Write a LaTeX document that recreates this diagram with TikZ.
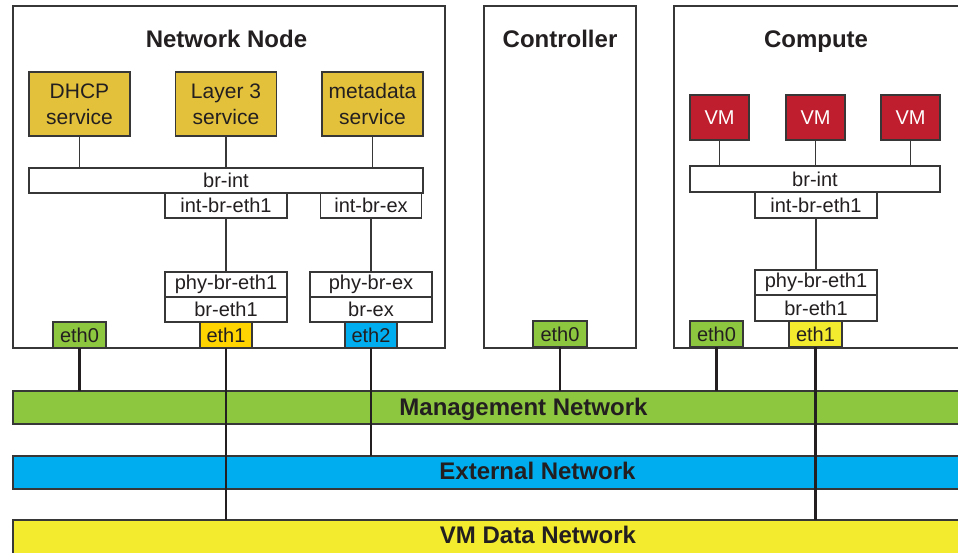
\documentclass[tikz,border=0pt]{standalone}
\usepackage{fontspec}
\setmainfont{Liberation Sans}
\usetikzlibrary{positioning}

\definecolor{inkgray}{RGB}{35,31,32}
\definecolor{edgegray}{RGB}{55,55,55}
\definecolor{svcgold}{RGB}{227,193,59}
\definecolor{nicgreen}{RGB}{141,198,63}
\definecolor{nicgold}{RGB}{255,212,0}
\definecolor{nicblue}{RGB}{0,174,239}
\definecolor{datayellow}{RGB}{242,235,46}
\definecolor{vmred}{RGB}{190,30,45}

\tikzset{
  every node/.style={inner sep=0pt, outer sep=0pt, text=inkgray,
    font=\fontsize{20}{22}\selectfont},
  host/.style={draw=edgegray, line width=1.4pt, fill=white},
  hosttitle/.style={anchor=base, font=\bfseries\fontsize{24}{28}\selectfont},
  svc/.style={draw=edgegray, line width=1.4pt, fill=svcgold, align=center,
    minimum width=101pt, minimum height=64pt,
    font=\fontsize{21}{26}\selectfont},
  vmbox/.style={draw=edgegray, line width=1.4pt, fill=vmred, text=white,
    minimum width=59pt, minimum height=45pt},
  bridge/.style={draw=edgegray, line width=1.4pt, fill=white,
    minimum height=25pt},
  nic/.style={draw=edgegray, line width=1.4pt, minimum width=53pt,
    minimum height=26pt},
  band/.style={draw=edgegray, line width=1.4pt, minimum width=1049pt,
    minimum height=33pt},
  bandlabel/.style={anchor=base, font=\bfseries\fontsize{24}{28}\selectfont},
  wire/.style={draw=edgegray, line width=1.5pt},
  uplink/.style={draw=inkgray, line width=2.6pt},
}

\begin{document}
\begin{tikzpicture}[x=1pt,y=-1pt]
\useasboundingbox (0,0) rectangle (958,553);
\clip (0,0) rectangle (958,553);

% hosts
\node[host, minimum width=432pt, minimum height=342pt] (netbox) at (229,177) {};
\node[host, minimum width=152pt, minimum height=342pt] (ctlbox) at (560,177) {};
\node[host, minimum width=326pt, minimum height=342pt] (cmpbox) at (837,177) {};
\node[hosttitle] (nettitle) at (226.5,48) {Network Node};
\node[hosttitle] (ctltitle) at (560,48) {Controller};
\node[hosttitle] (cmptitle) at (816,48) {Compute};

% network node
\node[svc] (dhcp) at (79.5,104) {DHCP\\service};
\node[svc] (lthree) at (226,104) {Layer 3\\service};
\node[svc] (meta) at (372.5,104) {metadata\\service};
\node[bridge, minimum width=394pt] (nbrint) at (226,180.5) {br-int};
\node[bridge, minimum width=122pt] (nintbreth) at (226,205.5) {int-br-eth1};
\node[bridge, minimum width=101pt] (nintbrex) at (371,205.5) {int-br-ex};
\node[bridge, minimum width=122pt] (nphyeth) at (226,284.5) {phy-br-eth1};
\node[bridge, minimum width=122pt] (nbreth) at (226,309.5) {br-eth1};
\node[bridge, minimum width=122pt] (nphyex) at (371,284.5) {phy-br-ex};
\node[bridge, minimum width=122pt] (nbrex) at (371,309.5) {br-ex};
\node[nic, fill=nicgreen] (neth0) at (79.5,335) {eth0};
\node[nic, fill=nicgold, minimum width=52pt] (neth1) at (226,335) {eth1};
\node[nic, fill=nicblue, minimum width=52pt] (neth2) at (371,335) {eth2};

% controller
\node[nic, fill=nicgreen, minimum width=54pt] (ceth0) at (560,334) {eth0};

% compute
\node[vmbox] (vma) at (719.5,117.5) {VM};
\node[vmbox] (vmb) at (815.5,117.5) {VM};
\node[vmbox] (vmc) at (910.5,117.5) {VM};
\node[bridge, minimum width=250pt, minimum height=26pt] (cbrint) at (815,179) {br-int};
\node[bridge, minimum width=122pt, minimum height=26pt] (cintbreth) at (816,205) {int-br-eth1};
\node[bridge, minimum width=122pt] (cphyeth) at (816,282.5) {phy-br-eth1};
\node[bridge, minimum width=122pt, minimum height=26pt] (cbreth) at (816,308) {br-eth1};
\node[nic, fill=nicgreen] (keth0) at (716.5,334) {eth0};
\node[nic, fill=datayellow] (keth1) at (815.5,334) {eth1};

% networks
\node[band, fill=nicgreen] (mgmt) at (537.5,407.5) {};
\node[band, fill=nicblue] (ext) at (537.5,472.5) {};
\node[band, fill=datayellow, minimum height=34pt] (vmdata) at (537.5,537) {};
\node[bandlabel] (mgmtlabel) at (523.5,415) {Management Network};
\node[bandlabel] (extlabel) at (537.5,479.5) {External Network};
\node[bandlabel] (vmdatalabel) at (538,543.5) {VM Data Network};

% links inside hosts
\foreach \s in {dhcp,lthree,meta}
  \draw[wire] (\s.south) -- (\s.south |- nbrint.north);
\draw[wire] (nintbreth.south) -- (nphyeth.north);
\draw[wire] (nintbrex.south) -- (nphyex.north);
\foreach \s in {vma,vmb,vmc}
  \draw[wire] (\s.south) -- (\s.south |- cbrint.north);
\draw[wire] (cintbreth.south) -- (cphyeth.north);

% uplinks
\draw[uplink] (neth0.south) -- (neth0.south |- mgmt.north);
\draw[uplink] (neth1.south) -- (neth1.south |- vmdata.north);
\draw[uplink] (neth2.south) -- (neth2.south |- ext.north);
\draw[uplink] (ceth0.south) -- (ceth0.south |- mgmt.north);
\draw[uplink] (keth0.south) -- (keth0.south |- mgmt.north);
\draw[uplink] (keth1.south) -- (keth1.south |- vmdata.north);

\end{tikzpicture}
\end{document}
